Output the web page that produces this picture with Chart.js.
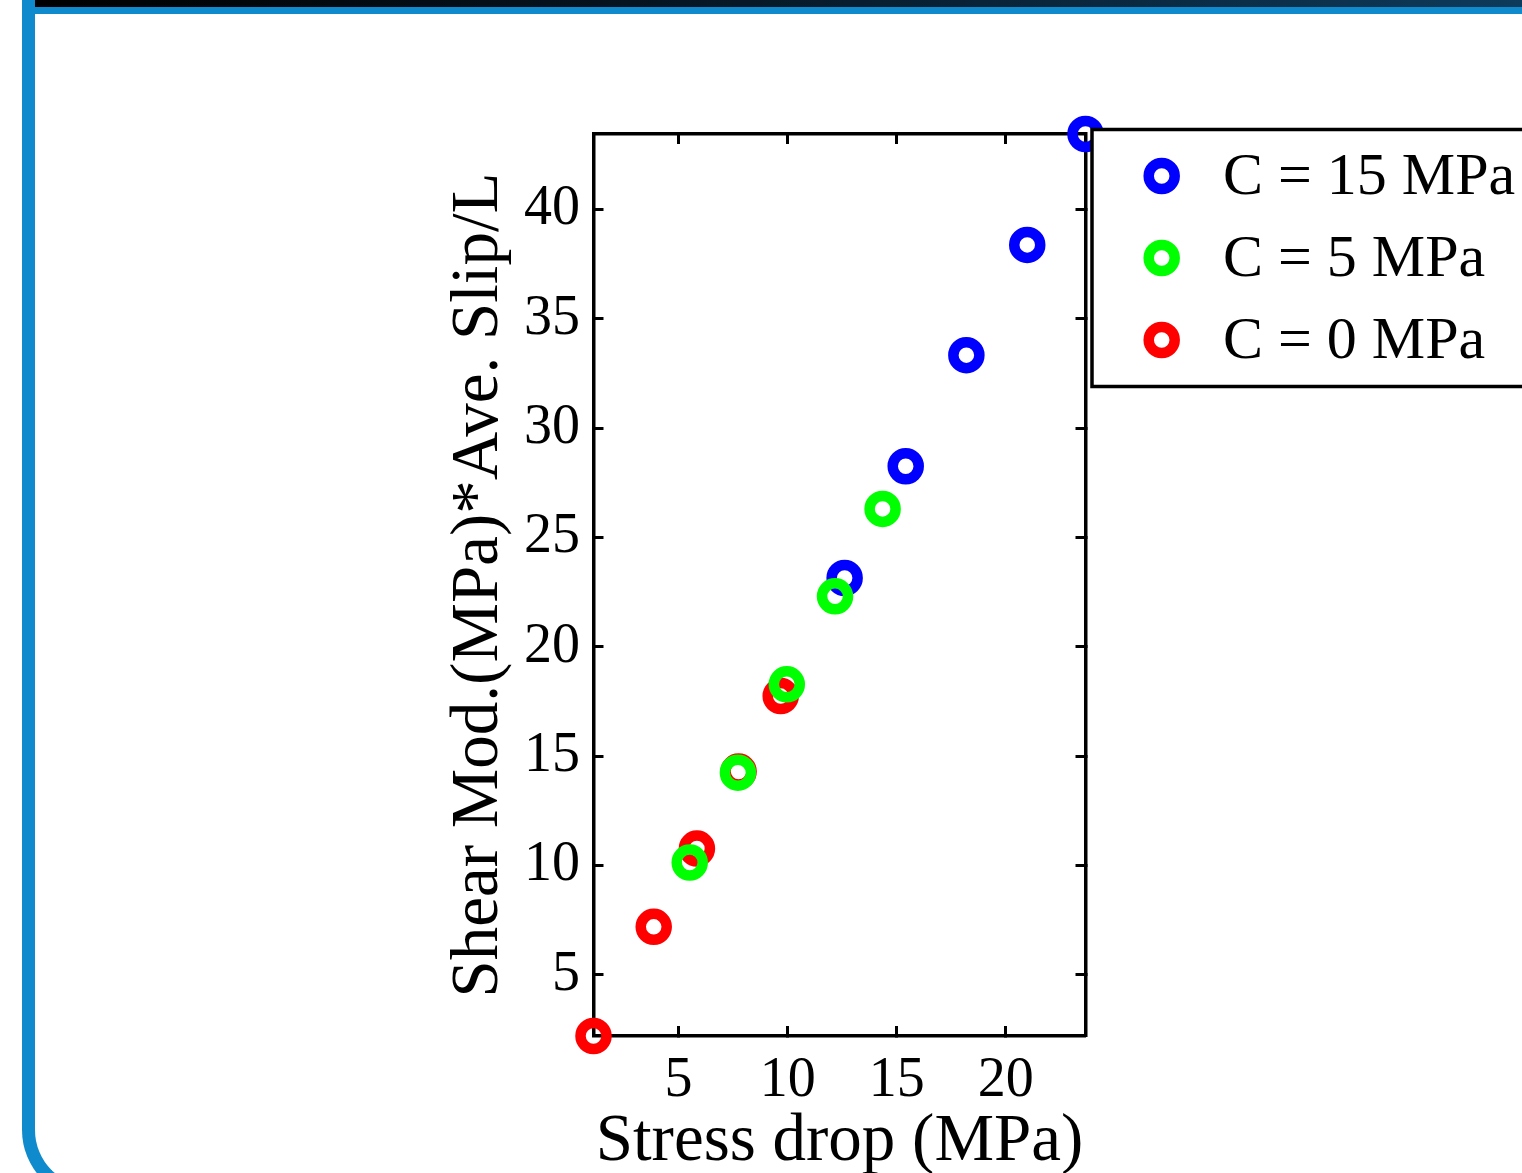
<!DOCTYPE html>
<html lang="en">
<head>
  <meta charset="UTF-8" />
  <title>Stress drop vs shear modulus * slip / L</title>
  <script src="https://cdn.jsdelivr.net/npm/chart.js@4.4.0"></script>
  <style>
    html, body {
      margin: 0;
      padding: 0;
      background: #fff;
      overflow: hidden;
      width: 1522px;
      height: 1173px;
    }
    .frame {
      position: absolute;
      left: 22px;
      top: 0;
      width: 3000px;
      height: 1200px;
      box-sizing: border-box;
      border-left: 13px solid #0f8bcd;
      border-bottom: 13px solid #0f8bcd;
      border-bottom-left-radius: 70px;
    }
    .topbar {
      position: absolute;
      left: 22px;
      top: 7px;
      width: 1600px;
      height: 7px;
      background: #0f8bcd;
    }
    .darkbar {
      position: absolute;
      left: 35px;
      top: 0;
      width: 1500px;
      height: 7px;
      background: linear-gradient(to right, #000 0%, #061421 40%, #0e3b5c 100%);
    }
    #wrap {
      position: absolute;
      left: 0;
      top: 0;
    }
  </style>
</head>
<body>
  <div class="frame"></div>
  <div class="topbar"></div>
  <div class="darkbar"></div>
  <div id="wrap"><canvas id="chart" width="1700" height="1250"></canvas></div>

  <script>
    // axis limits (MATLAB "axis tight") and tick labels
    const xRange = [1.10, 23.65];
    const yRange = [2.21, 43.45];
    const xTicks = [5, 10, 15, 20];
    const yTicks = [5, 10, 15, 20, 25, 30, 35, 40];

    const seriesLabels = ['C = 15 MPa', 'C = 5 MPa', 'C = 0 MPa'];

    // stress drop (MPa) and shear mod * ave slip / L for each cohesion
    const stressC15 = [12.61, 15.41, 18.19, 20.98, 23.65];
    const slipC15   = [23.15, 28.26, 33.34, 38.38, 43.45];
    const stressC5  = [5.51, 7.72, 9.96, 12.17, 14.35];
    const slipC5    = [10.14, 14.25, 18.29, 22.31, 26.31];
    const stressC0  = [1.10, 3.86, 5.84, 7.75, 9.68];
    const slipC0    = [2.21, 7.20, 10.78, 14.30, 17.75];

    const FONT = "'Liberation Serif', 'Times New Roman', serif";

    function toPoints(xs, ys) {
      return xs.map((x, i) => ({ x: x, y: ys[i] }));
    }

    function ringSet(label, data, color, order) {
      return {
        label: label,
        data: data,
        borderColor: color,
        backgroundColor: 'rgba(0,0,0,0)',
        pointBackgroundColor: 'rgba(0,0,0,0)',
        pointBorderColor: color,
        pointRadius: 13,
        pointBorderWidth: 10.5,
        pointStyle: 'circle',
        showLine: false,
        clip: false,
        order: order
      };
    }

    function fixTicks(values) {
      return function (scale) {
        scale.ticks = values.map(v => ({ value: v }));
      };
    }

    // MATLAB style box with inward ticks
    function axisOpts(range, ticks, extra) {
      return Object.assign({
        type: 'linear',
        min: range[0],
        max: range[1],
        afterBuildTicks: fixTicks(ticks),
        grid: {
          drawOnChartArea: false,
          drawTicks: true,
          tickLength: -10,
          tickWidth: 3,
          tickColor: '#000'
        },
        border: { display: true, color: '#000', width: 3.5 }
      }, extra);
    }

    const boxedLegend = {
      id: 'boxedLegend',
      afterDatasetsDraw(chart, args, opts) {
        const ctx = chart.ctx;
        ctx.save();
        ctx.fillStyle = '#fff';
        ctx.fillRect(opts.left, opts.top, opts.width, opts.height);
        ctx.lineWidth = 3.5;
        ctx.strokeStyle = '#000';
        ctx.strokeRect(opts.left, opts.top, opts.width, opts.height);
        ctx.font = opts.fontSize + 'px ' + FONT;
        ctx.textBaseline = 'middle';
        ctx.textAlign = 'left';
        chart.data.datasets.forEach((ds, i) => {
          const y = opts.top + opts.firstRow + i * opts.rowGap;
          ctx.beginPath();
          ctx.arc(opts.markerX, y, ds.pointRadius, 0, Math.PI * 2);
          ctx.lineWidth = ds.pointBorderWidth;
          ctx.strokeStyle = ds.pointBorderColor;
          ctx.stroke();
          ctx.fillStyle = '#000';
          ctx.fillText(ds.label, opts.textX, y + 2);
        });
        ctx.restore();
      }
    };

    const ctx = document.getElementById('chart').getContext('2d');
    new Chart(ctx, {
      type: 'scatter',
      data: {
        datasets: [
          ringSet(seriesLabels[0], toPoints(stressC15, slipC15), '#0000ff', 2),
          ringSet(seriesLabels[1], toPoints(stressC5, slipC5), '#00ff00', 0),
          ringSet(seriesLabels[2], toPoints(stressC0, slipC0), '#ff0000', 1)
        ]
      },
      options: {
        responsive: false,
        animation: false,
        events: [],
        layout: { padding: { left: 439.4, top: 134, right: 614.5, bottom: 67.2 } },
        scales: {
          x: axisOpts(xRange, xTicks, {
            position: 'bottom',
            afterFit(scale) { scale.height = 146.8; },
            ticks: { color: '#000', padding: 21.4, font: { family: FONT, size: 56 } },
            title: {
              display: true,
              text: 'Stress drop (MPa)',
              color: '#000',
              padding: 0,
              font: { family: FONT, size: 67 }
            }
          }),
          y: axisOpts(yRange, yTicks, {
            position: 'left',
            afterFit(scale) { scale.width = 154.1; },
            ticks: { color: '#000', padding: 23.5, font: { family: FONT, size: 56 } },
            title: {
              display: true,
              text: 'Shear Mod.(MPa)*Ave. Slip/L',
              color: '#000',
              padding: 0,
              font: { family: FONT, size: 67 }
            }
          }),
          x2: axisOpts(xRange, xTicks, {
            position: 'top',
            afterFit(scale) { scale.height = 0; },
            ticks: { display: false }
          }),
          y2: axisOpts(yRange, yTicks, {
            position: 'right',
            afterFit(scale) { scale.width = 0; },
            ticks: { display: false }
          })
        },
        plugins: {
          legend: { display: false },
          tooltip: { enabled: false },
          boxedLegend: {
            left: 1092, top: 129.5, width: 520, height: 257,
            markerX: 1161.7, textX: 1223,
            firstRow: 46.5, rowGap: 82,
            fontSize: 60
          }
        }
      },
      plugins: [boxedLegend]
    });
  </script>
</body>
</html>
